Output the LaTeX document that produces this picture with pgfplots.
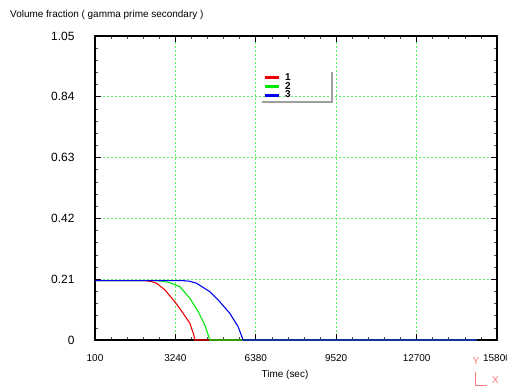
\documentclass[border=0pt]{standalone}
\usepackage{fontspec}
\setmainfont{Liberation Sans}
\usepackage{pgfplots}
\pgfplotsset{compat=1.18}
\definecolor{gridgreen}{RGB}{90,240,90}
\definecolor{cred}{RGB}{240,0,0}
\definecolor{cgreen}{RGB}{0,230,0}
\definecolor{cblue}{RGB}{0,0,240}
\definecolor{iconred}{RGB}{250,120,120}
\begin{document}
\begin{tikzpicture}
\useasboundingbox (0,0) rectangle (507bp,-386bp);
\begin{axis}[
  at={(95bp,-340bp)}, anchor=south west,
  scale only axis, width=402bp, height=304bp,
  xmin=100, xmax=15800, ymin=0, ymax=1.05,
  scaled x ticks=false, scaled y ticks=false,
  xtick={100,3240,6380,9520,12660,15800},
  xticklabels={100,3240,6380,9520,12700,15800},
  ytick={0,0.21,0.42,0.63,0.84,1.05},
  yticklabels={0,0.21,0.42,0.63,0.84,1.05},
  minor tick num=4,
  tick align=inside,
  major tick length=6bp, minor tick length=3bp,
  every tick/.style={black, line width=0.8bp},
  minor tick style={black!70, line width=0.6bp},
  axis line style={black, line width=1.2bp},
  grid=major,
  major grid style={gridgreen, line width=0.7bp, dash pattern=on 2bp off 2bp},
  xticklabel style={font=\fontsize{10}{10}\selectfont, yshift=-11bp},
  yticklabel style={font=\fontsize{12}{12}\selectfont, xshift=-17bp},
  legend style={at={(axis description cs:0.42,0.888)}, anchor=north west, draw=none, fill=none,
    font=\bfseries\fontsize{10}{10}\selectfont, row sep=-3.5bp, inner sep=1bp},
  legend cell align=left,
]
\addplot[color=cred, line width=1.1bp, legend image code/.code={\fill[cred] (0bp,-0.9bp) rectangle (13bp,0.9bp);}] coordinates {(100,0.205) (2050,0.205) (2300,0.202) (2507,0.196) (2830,0.173) (3220,0.132) (3545,0.092) (3805,0.058) (3950,0.02) (4000,0) (15000,0)};
\addlegendentry{\hspace{4bp}1}
\addplot[color=cgreen, line width=1.1bp, legend image code/.code={\fill[cgreen] (0bp,-0.9bp) rectangle (13bp,0.9bp);}] coordinates {(100,0.205) (2500,0.205) (2750,0.203) (3025,0.198) (3415,0.184) (3805,0.144) (4130,0.098) (4390,0.052) (4585,0) (15000,0)};
\addlegendentry{\hspace{4bp}2}
\addplot[color=cblue, line width=1.1bp, legend image code/.code={\fill[cblue] (0bp,-0.9bp) rectangle (13bp,0.9bp);}] coordinates {(100,0.205) (3545,0.205) (3800,0.203) (4065,0.196) (4585,0.167) (4975,0.132) (5365,0.092) (5690,0.046) (5885,0) (15000,0)};
\addlegendentry{\hspace{4bp}3}
\end{axis}
\draw[gray!75, line width=1.6bp] (332bp,-72bp) -- (332bp,-102bp) -- (262bp,-102bp);
\node[anchor=west, inner sep=0pt, font=\fontsize{10}{10}\selectfont] at (10bp,-15bp) {Volume fraction ( gamma prime secondary )};
\node[inner sep=0pt, font=\fontsize{10}{10}\selectfont] at (285bp,-375bp) {Time (sec)};
\node[inner sep=0pt, text=iconred, font=\fontsize{10}{10}\selectfont] at (476bp,-361bp) {Y};
\node[inner sep=0pt, text=iconred, font=\fontsize{10}{10}\selectfont] at (495.5bp,-380.5bp) {X};
\draw[iconred, line width=1bp] (475bp,-372bp) -- (475bp,-385bp) -- (487bp,-385bp);
\end{tikzpicture}
\end{document}
